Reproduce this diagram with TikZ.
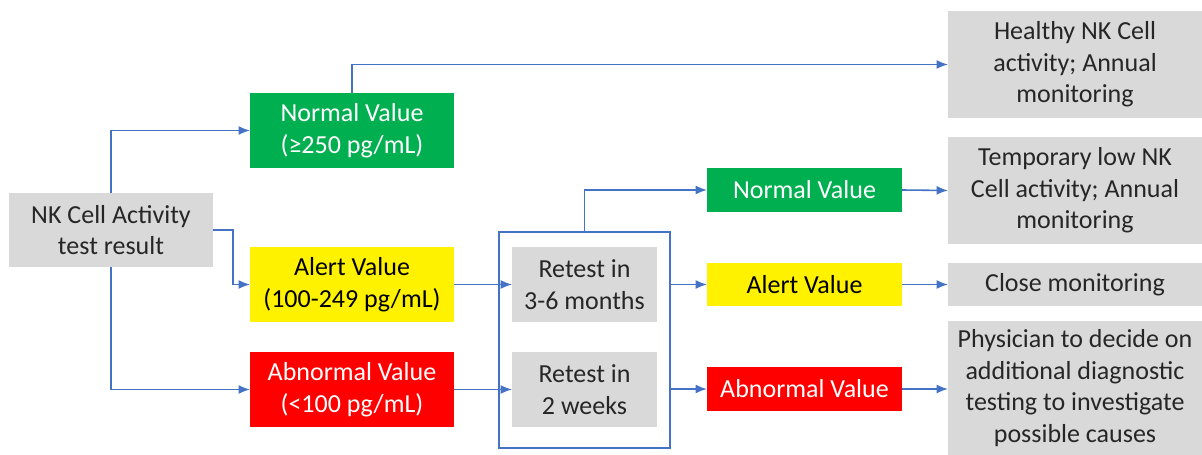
\documentclass[tikz,border=0pt]{standalone}
\usepackage{fontspec}
\setmainfont{Carlito}
\usetikzlibrary{arrows.meta}

\definecolor{boxgray}{HTML}{D9D9D9}
\definecolor{okgreen}{HTML}{00B050}
\definecolor{linkblue}{HTML}{4472C4}
\definecolor{txtgray}{HTML}{262626}

\begin{document}
\begin{tikzpicture}[x=0.02cm, y=-0.02cm,
    every node/.style={align=center, inner sep=0pt, outer sep=0pt, font=\fontsize{14.8}{18}\selectfont},
    greybox/.style={fill=boxgray, text=txtgray},
    okbox/.style={fill=okgreen, text=white},
    alertbox/.style={fill=yellow, text=black},
    badbox/.style={fill=red, text=white},
    big/.style={minimum width=4.08cm, minimum height=1.5cm},
    small/.style={minimum width=3.9cm, minimum height=0.88cm},
    endbox/.style={greybox, minimum width=5.08cm},
    arr/.style={draw=linkblue, line width=0.9pt, -{Latex[length=2.3mm, width=1.8mm]}},
    lnk/.style={draw=linkblue, line width=0.9pt}]
            \useasboundingbox (0,0) rectangle (1202,455);
            \node[greybox, big] (start) at (111,230) {NK Cell Activity\\test result};
            \node[okbox, big] (nv) at (352,130.5) {Normal Value\\(≥250 pg/mL)};
            \node[alertbox, big] (av) at (352,284.5) {Alert Value\\(100-249 pg/mL)};
            \node[badbox, big] (abv) at (352,389.5) {Abnormal Value\\(<100 pg/mL)};
            \node[lnk, minimum width=3.42cm, minimum height=4.32cm] (grp) at (584.5,340) {};
            \node[greybox, minimum width=2.9cm, minimum height=1.5cm] (rt1) at (584.5,284.5) {Retest in\\3-6 months};
            \node[greybox, minimum width=2.9cm, minimum height=1.5cm] (rt2) at (584.5,389.5) {Retest in\\2 weeks};
            \node[okbox, small] (nv2) at (804.5,190) {Normal Value};
            \node[alertbox, small] (av2) at (804.5,284.5) {Alert Value};
            \node[badbox, small] (abv2) at (804.5,389) {Abnormal Value};
            \node[endbox, minimum height=2.14cm] (healthy) at (1075,64.5) {Healthy NK Cell\\activity; Annual\\monitoring};
            \node[endbox, minimum height=2.14cm] (temp) at (1075,190.5) {Temporary low NK\\Cell activity; Annual\\monitoring};
            \node[endbox, minimum height=0.86cm] (close) at (1075,284.5) {Close monitoring};
            \node[endbox, minimum height=2.68cm] (phys) at (1075,388) {Physician to decide on\\additional diagnostic\\testing to investigate\\possible causes};
            % first split
            \draw[arr] (start.north) |- (nv.west);
            \draw[arr] (start.east) -- ++(20,0) |- (av.west);
            \draw[arr] (start.south) |- (abv.west);
            \draw[arr] (nv.north) |- (healthy.west);
            % retest
            \draw[arr] (av.east) -- (rt1.west);
            \draw[arr] (abv.east) -- (rt2.west);
            \draw[arr] (grp.north) |- (nv2.west);
            \draw[arr] (grp.east |- av2.west) -- (av2.west);
            \draw[arr] (grp.east |- abv2.west) -- (abv2.west);
            % outcomes
            \draw[arr] (nv2.east) -- (temp.west);
            \draw[arr] (av2.east) -- (close.west);
            \draw[arr] (abv2.east) -- (phys.west |- abv2.east);
        \end{tikzpicture}
\end{document}
